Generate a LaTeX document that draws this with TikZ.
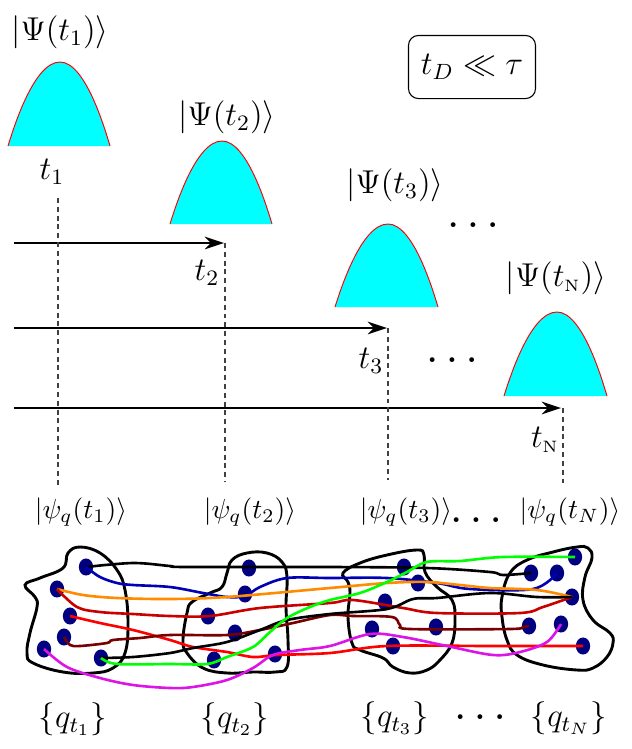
\documentclass[tikz,border=0pt]{standalone}
\usetikzlibrary{arrows.meta,shapes.geometric}
\definecolor{navyd}{RGB}{0,0,128}
\definecolor{cyanf}{RGB}{0,255,255}
\definecolor{blu}{RGB}{0,0,180}
\definecolor{orng}{RGB}{255,140,0}
\definecolor{dred}{RGB}{200,0,0}
\definecolor{mar}{RGB}{120,0,0}
\definecolor{mag}{RGB}{220,20,230}
\definecolor{grn}{RGB}{0,255,0}
\newcommand{\bigdots}{{\bfseries\large .\kern3.4pt.\kern3.4pt.}}
\begin{document}
\begin{tikzpicture}[x=0.363pt,y=-0.363pt,
  bumpfill/.style={fill=cyanf},
  bumpline/.style={red, line width=0.35pt},
  lbl/.style={font=\large, inner sep=1pt},
  plbl/.style={font=\normalsize, inner sep=1pt},
  dotsl/.style={inner sep=0pt},
  timearrow/.style={line width=0.55pt, -{Stealth[length=7pt,width=4.6pt,inset=2.2pt]}},
  drop/.style={dash pattern=on 1.8pt off 1.4pt, line width=0.45pt, black!75},
  blob/.style={line width=1.05pt, smooth cycle, tension=0.7},
  dot/.style={ellipse, fill=navyd, minimum width=5.2pt, minimum height=6.2pt, inner sep=0pt},
  traj/.style={line width=0.95pt, smooth, tension=0.55}
]
\useasboundingbox (0,0) rectangle (632,749);

% bumps
\fill[bumpfill] (8,146) parabola bend (60,62) (110,146) -- cycle;
\draw[bumpline] (8,146) parabola bend (60,62) (110,146);
\fill[bumpfill] (170,224) parabola bend (222,141) (272,224) -- cycle;
\draw[bumpline] (170,224) parabola bend (222,141) (272,224);
\fill[bumpfill] (335,307) parabola bend (388,224) (438,307) -- cycle;
\draw[bumpline] (335,307) parabola bend (388,224) (438,307);
\fill[bumpfill] (504,396) parabola bend (557,312) (607,396) -- cycle;
\draw[bumpline] (504,396) parabola bend (557,312) (607,396);

% state labels
\node[lbl] (P1) at (60,32) {$|\Psi(t_1)\rangle$};
\node[lbl] (P2) at (227,117) {$|\Psi(t_2)\rangle$};
\node[lbl] (P3) at (395,185) {$|\Psi(t_3)\rangle$};
\node[lbl] (PN) at (556,278) {$|\Psi(t_{\scriptscriptstyle\mathrm{N}})\rangle$};

% box
\node[draw, rounded corners=3.6pt, line width=0.4pt, minimum width=46.1pt, minimum height=22.9pt, font=\large] (box) at (472,67) {$t_D\ll\tau$};

% time labels
\node[lbl] (T1) at (52,172) {$t_1$};
\node[lbl] (T2) at (207,273) {$t_2$};
\node[lbl] (T3) at (371,361) {$t_3$};
\node[lbl] (TN) at (545,440) {$t_{\scriptscriptstyle\mathrm{N}}$};

\node[dotsl] (dA) at (473,225) {\bigdots};
\node[dotsl] (dB) at (452,360) {\bigdots};

% coordinates
\coordinate (u1) at (58,198);  \coordinate (v1) at (58,487);
\coordinate (s2) at (14,243);  \coordinate (e2) at (224,243); \coordinate (v2) at (225,482);
\coordinate (s3) at (14,328);  \coordinate (e3) at (387,328); \coordinate (v3) at (388,480);
\coordinate (s4) at (14,408);  \coordinate (e4) at (561,408); \coordinate (v4) at (563,483);

\draw[timearrow] (s2) -- (e2);
\draw[timearrow] (s3) -- (e3);
\draw[timearrow] (s4) -- (e4);
\draw[drop] (u1) -- (v1);
\draw[drop] (225,243) -- (v2);
\draw[drop] (388,328) -- (v3);
\draw[drop] (563,408) -- (v4);

% psi labels
\node[plbl] (Q1) at (81,512) {$|\psi_q(t_1)\rangle$};
\node[plbl] (Q2) at (250,512) {$|\psi_q(t_2)\rangle$};
\node[plbl] (Q3) at (406,512) {$|\psi_q(t_3)\rangle$};
\node[dotsl] (dC) at (476,520) {\bigdots};
\node[plbl] (QN) at (570,512) {$|\psi_q(t_N)\rangle$};

% set labels
\node[lbl] (S1) at (73,719) {$\{q_{t_1}\}$};
\node[lbl] (S2) at (235,719) {$\{q_{t_2}\}$};
\node[lbl] (S3) at (395,718) {$\{q_{t_3}\}$};
\node[dotsl] (dD) at (480,717) {\bigdots};
\node[lbl] (SN) at (569,718) {$\{q_{t_N}\}$};

% blobs
\draw[blob] plot coordinates {(25,585) (40,578) (63,568) (68,553) (80,547) (100,553) (117,570) (125,590) (128,623) (125,653) (113,668) (93,673) (63,672) (33,663) (27,653) (30,633) (37,607) (35,597)};
\draw[blob] plot coordinates {(192,602) (210,593) (222,587) (227,573) (232,560) (247,553) (267,553) (282,562) (287,577) (286,607) (288,640) (287,667) (275,672) (253,672) (227,673) (203,668) (187,653) (183,640) (187,613)};
\draw[blob] plot coordinates {(343,573) (360,563) (387,555) (417,550) (424,555) (425,572) (437,587) (452,600) (455,620) (452,643) (440,660) (427,670) (410,673) (393,667) (383,658) (360,650) (352,643) (348,617) (350,593) (348,582)};
\draw[blob] plot coordinates {(510,573) (527,560) (553,552) (577,547) (588,548) (592,558) (585,577) (583,600) (593,620) (610,633) (613,643) (607,657) (593,668) (577,670) (543,665) (517,655) (507,640) (502,617) (502,597)};

% dots
\node[dot] (a1) at (86,567) {};
\node[dot] (a2) at (57,589) {};
\node[dot] (a3) at (70,616) {};
\node[dot] (a4) at (64,637) {};
\node[dot] (a5) at (44,649) {};
\node[dot] (a6) at (101,658) {};
\node[dot] (b1) at (249,568) {};
\node[dot] (b2) at (245,594) {};
\node[dot] (b3) at (208,616) {};
\node[dot] (b4) at (235,633) {};
\node[dot] (b5) at (214,660) {};
\node[dot] (b6) at (275,654) {};
\node[dot] (c1) at (404,567) {};
\node[dot] (c2) at (418,583) {};
\node[dot] (c3) at (385,602) {};
\node[dot] (c4) at (372,629) {};
\node[dot] (c5) at (393,646) {};
\node[dot] (c6) at (436,627) {};
\node[dot] (d1) at (575,557) {};
\node[dot] (d2) at (531,573) {};
\node[dot] (d3) at (557,573) {};
\node[dot] (d4) at (572,597) {};
\node[dot] (d5) at (529,626) {};
\node[dot] (d6) at (561,624) {};
\node[dot] (d7) at (583,646) {};

% trajectories
\draw[traj, black] plot coordinates {(a1.center) (133,563) (170,566) (187,567) (330,567) (427,568) (490,572) (503,575) (d2.center)};
\draw[traj, blu] plot coordinates {(a1.center) (100,577) (117,583) (133,585) (170,587) (203,593) (227,597) (245,596) (260,587) (287,578) (330,578) (387,578) (437,583) (470,589) (533,589) (d3.center)};
\draw[traj, orng] plot coordinates {(a2.center) (83,595) (117,598) (170,599) (227,597) (330,588) (387,583) (427,582) (460,585) (490,588) (537,590) (d4.center)};
\draw[traj, dred] plot coordinates {(a2.center) (77,607) (100,612) (133,614) (170,616) (210,616) (260,608) (330,603) (353,600) (403,608) (437,613) (520,613) (543,607) (d4.center)};
\draw[traj, red] plot coordinates {(a3.center) (100,623) (133,630) (170,640) (193,647) (227,652) (253,657) (277,655) (330,653) (387,646) (490,646) (d7.center)};
\draw[traj, mar] plot coordinates {(a4.center) (70,645) (80,646) (107,643) (113,640) (140,638) (170,635) (227,635) (260,630) (293,623) (330,615) (353,616) (392,617) (400,625) (410,629) (510,629) (523,627) (d5.center)};
\draw[traj, mag] plot coordinates {(a5.center) (67,667) (100,678) (133,685) (170,688) (193,687) (227,680) (253,668) (273,655) (300,650) (330,646) (370,634) (403,637) (447,646) (493,655) (520,652) (547,642) (d6.center)};
\draw[traj, black] plot coordinates {(a6.center) (133,657) (170,653) (193,648) (227,642) (260,630) (287,620) (330,614) (387,609) (413,599) (437,598) (490,593) (537,597) (d4.center)};
\draw[traj, grn] plot coordinates {(a6.center) (117,664) (170,664) (207,664) (227,657) (253,647) (270,632) (287,618) (310,607) (330,600) (360,593) (387,582) (407,572) (427,562) (460,561) (503,557) (d1.center)};
\end{tikzpicture}
\end{document}
